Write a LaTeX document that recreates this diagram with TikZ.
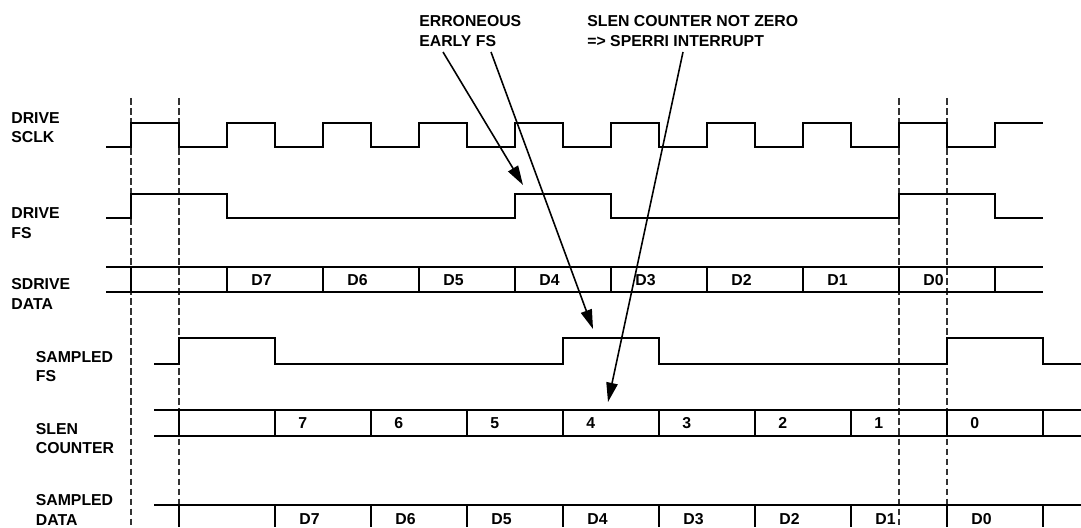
\documentclass[tikz,border=0pt]{standalone}
\usepackage{fontspec}
\setmainfont{Liberation Sans}
\usetikzlibrary{arrows.meta}

\begin{document}
\begin{tikzpicture}[
  x=0.02cm, y=-0.02cm,
  sig/.style={line width=1.1pt, line join=miter},
  bus/.style={line width=1pt},
  guide/.style={line width=0.6pt, dash pattern=on 3.8pt off 1.9pt, black!80},
  lbl/.style={anchor=west, align=left, inner sep=0pt,
              font=\fontsize{9}{11.2}\selectfont\bfseries},
  val/.style={anchor=west, inner sep=0pt, text height=6.45pt, text depth=0pt,
              font=\fontsize{9}{11.2}\selectfont\bfseries},
  arr/.style={-{Triangle[length=11pt,width=6.5pt]}, line width=0.9pt}
]
\useasboundingbox (0,0) rectangle (1081,527);

%% Timing guides
\foreach \gx in {131,179,899,947}
  \draw[guide] (\gx,98) -- (\gx,527);

%% Signal names
\node[lbl] (sclk) at (11,127.5)   {DRIVE\\SCLK};
\node[lbl] (dfs)  at (11,223)     {DRIVE\\FS};
\node[lbl] (sdd)  at (11,294)     {SDRIVE\\DATA};
\node[lbl] (sfs)  at (35.5,366.5) {SAMPLED\\FS};
\node[lbl] (slen) at (35.5,438.5) {SLEN\\COUNTER};
\node[lbl] (sdat) at (35.5,510)   {SAMPLED\\DATA};

%% DRIVE SCLK
\draw[sig] (106,146.7)
  \foreach \k in {0,...,8} { -| ({131+96*\k},122.7) -| ({179+96*\k},146.7) }
  -| (995,122.7) -- (1043,122.7);

%% DRIVE FS
\draw[sig] (106,217.7) -| (131,194.3) -| (227,217.7) -| (515,194.3)
  -| (611,217.7) -| (899,194.3) -| (995,217.7) -- (1043,217.7);

%% SDRIVE DATA bus
\draw[bus] (106,266.7) -- (1043,266.7) (106,292.3) -- (1043,292.3);
\foreach \k in {0,...,9}
  \draw[bus] ({131+96*\k},266.7) -- ({131+96*\k},292.3);
\foreach \v [count=\k from 1] in {D7,D6,D5,D4,D3,D2,D1,D0}
  \node[val] (sd\k) at ({131+96*\k+24},279.5) {\v};

%% SAMPLED FS
\draw[sig] (154,364.3) -| (179,338.3) -| (275,364.3) -| (563,338.3)
  -| (659,364.3) -| (947,338.3) -| (1043,364.3) -- (1081,364.3);

%% SLEN COUNTER bus
\draw[bus] (154,409.7) -- (1081,409.7) (154,436.3) -- (1081,436.3);
\foreach \k in {0,...,9}
  \draw[bus] ({179+96*\k},409.7) -- ({179+96*\k},436.3);
\foreach \v [count=\k from 1] in {7,6,5,4,3,2,1,0}
  \node[val] (sc\k) at ({179+96*\k+23},423) {\v};

%% SAMPLED DATA bus
\draw[bus] (154,505) -- (1081,505);
\foreach \k in {0,...,9}
  \draw[bus] ({179+96*\k},505) -- ({179+96*\k},527);
\foreach \v [count=\k from 1] in {D7,D6,D5,D4,D3,D2,D1,D0}
  \node[val] (sa\k) at ({179+96*\k+24},519) {\v};

%% Notes
\node[lbl] (errn)  at (419,31) {ERRONEOUS\\EARLY FS};
\node[lbl] (slenn) at (587,31) {SLEN COUNTER NOT ZERO\\=> SPERRI INTERRUPT};

\coordinate (e1) at (443,52);
\coordinate (t1) at (523,185);
\coordinate (e2) at (491,52);
\coordinate (t2) at (593,329);
\coordinate (e3) at (683,52);
\coordinate (t3) at (608,402);
\draw[arr] (e1) -- (t1);
\draw[arr] (e2) -- (t2);
\draw[arr] (e3) -- (t3);

\end{tikzpicture}
\end{document}
